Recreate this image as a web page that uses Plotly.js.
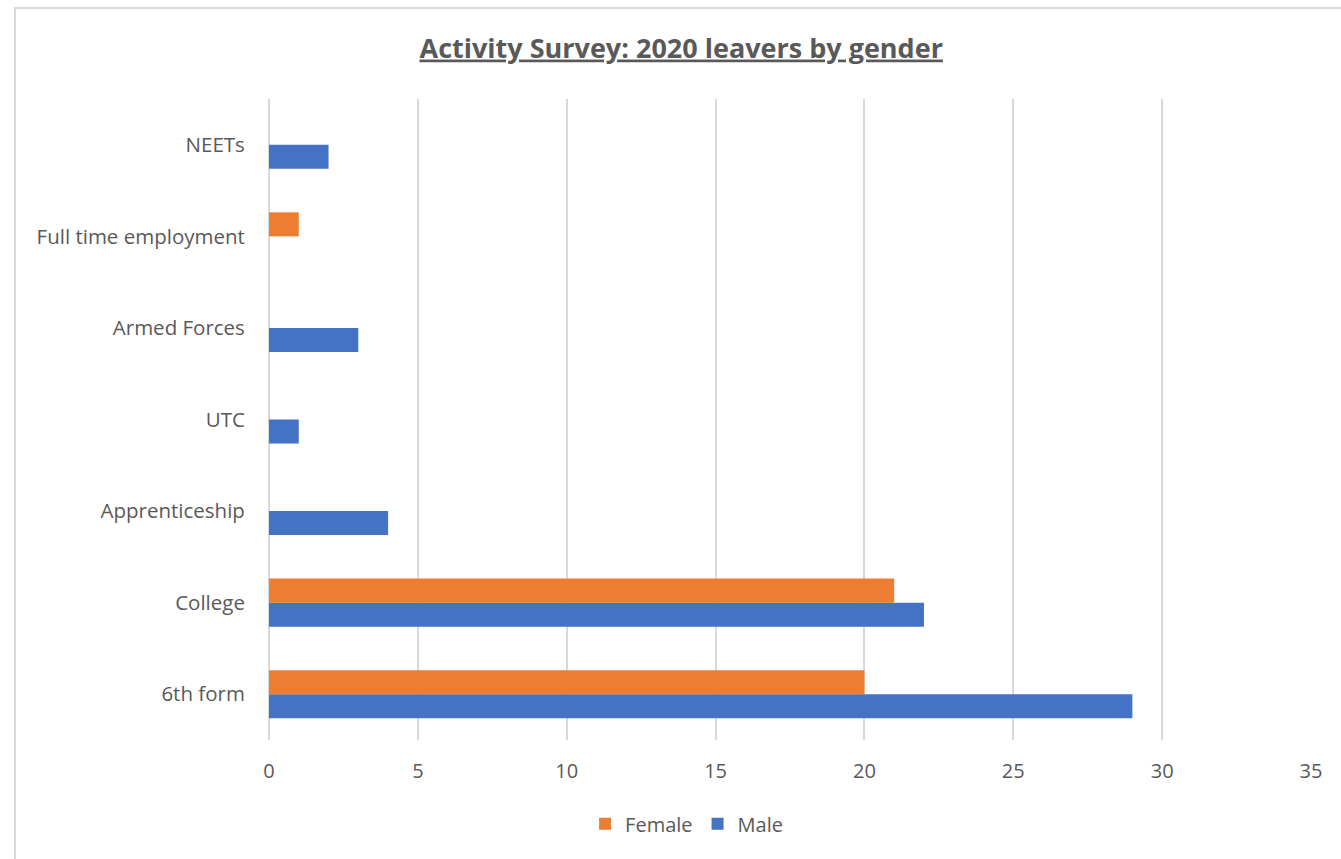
<!DOCTYPE html>
<html>
<head>
<meta charset="utf-8">
<script src="https://cdn.plot.ly/plotly-3.0.1.min.js"></script>
<style>
html,body{margin:0;padding:0;background:#fff;}
#frame{position:absolute;left:14px;top:7px;width:1340px;height:860px;border:2px solid #d9d9d9;box-sizing:border-box;}
#chart{position:absolute;left:0;top:0;width:1341px;height:859px;}
</style>
</head>
<body>
<div id="frame"></div>
<div id="chart"></div>
<script>
const categories = ["6th form", "College", "Apprenticeship", "UTC", "Armed Forces", "Full time employment", "NEETs"];
const femaleValues = [20, 21, null, null, null, 1, null];
const maleValues = [29, 22, 4, 1, 3, null, 2];
const xTicks = [0, 5, 10, 15, 20, 25, 30, 35];

const font = "Open Sans, Lato, sans-serif";

const traces = [
  {type: "bar", orientation: "h", name: "Male", y: categories, x: maleValues,
   marker: {color: "#4472C4"}, hoverinfo: "x+y+name"},
  {type: "bar", orientation: "h", name: "Female", y: categories, x: femaleValues,
   marker: {color: "#ED7D31"}, hoverinfo: "x+y+name"}
];

const layout = {
  width: 1341, height: 859,
  paper_bgcolor: "rgba(0,0,0,0)", plot_bgcolor: "rgba(0,0,0,0)",
  margin: {l: 269, r: 30, t: 99, b: 119},
  barmode: "group", bargap: 0.475, bargroupgap: 0,
  font: {family: font, color: "#595959", size: 18},
  title: {text: "<b><u>Activity Survey: 2020 leavers by gender</u></b>",
          font: {family: font, size: 27, color: "#595959"},
          x: 0.508, xref: "container", xanchor: "center", y: 0.944, yref: "container", yanchor: "middle"},
  xaxis: {range: [0, 35], tickvals: xTicks, ticktext: xTicks.map(String),
          showgrid: true, gridcolor: "#d9d9d9", gridwidth: 2,
          zeroline: true, zerolinecolor: "#d9d9d9", zerolinewidth: 2,
          showline: false, ticks: "outside", ticklen: 13, tickcolor: "rgba(0,0,0,0)",
          tickfont: {size: 20, color: "#595959", family: font}, fixedrange: true},
  yaxis: {type: "category", categoryorder: "array", categoryarray: categories,
          showgrid: false, zeroline: false, showline: false,
          ticks: "outside", ticklen: 19, tickcolor: "rgba(0,0,0,0)",
          tickfont: {size: 20.5, color: "#595959", family: font}, fixedrange: true},
  showlegend: true,
  legend: {orientation: "h", traceorder: "reversed", xref: "container", yref: "container",
           x: 0.512, xanchor: "center", y: 0.041, yanchor: "middle",
           font: {size: 20, color: "#595959", family: font}, itemwidth: 30}
};

Plotly.newPlot("chart", traces, layout, {displayModeBar: false, staticPlot: true});
</script>
</body>
</html>
